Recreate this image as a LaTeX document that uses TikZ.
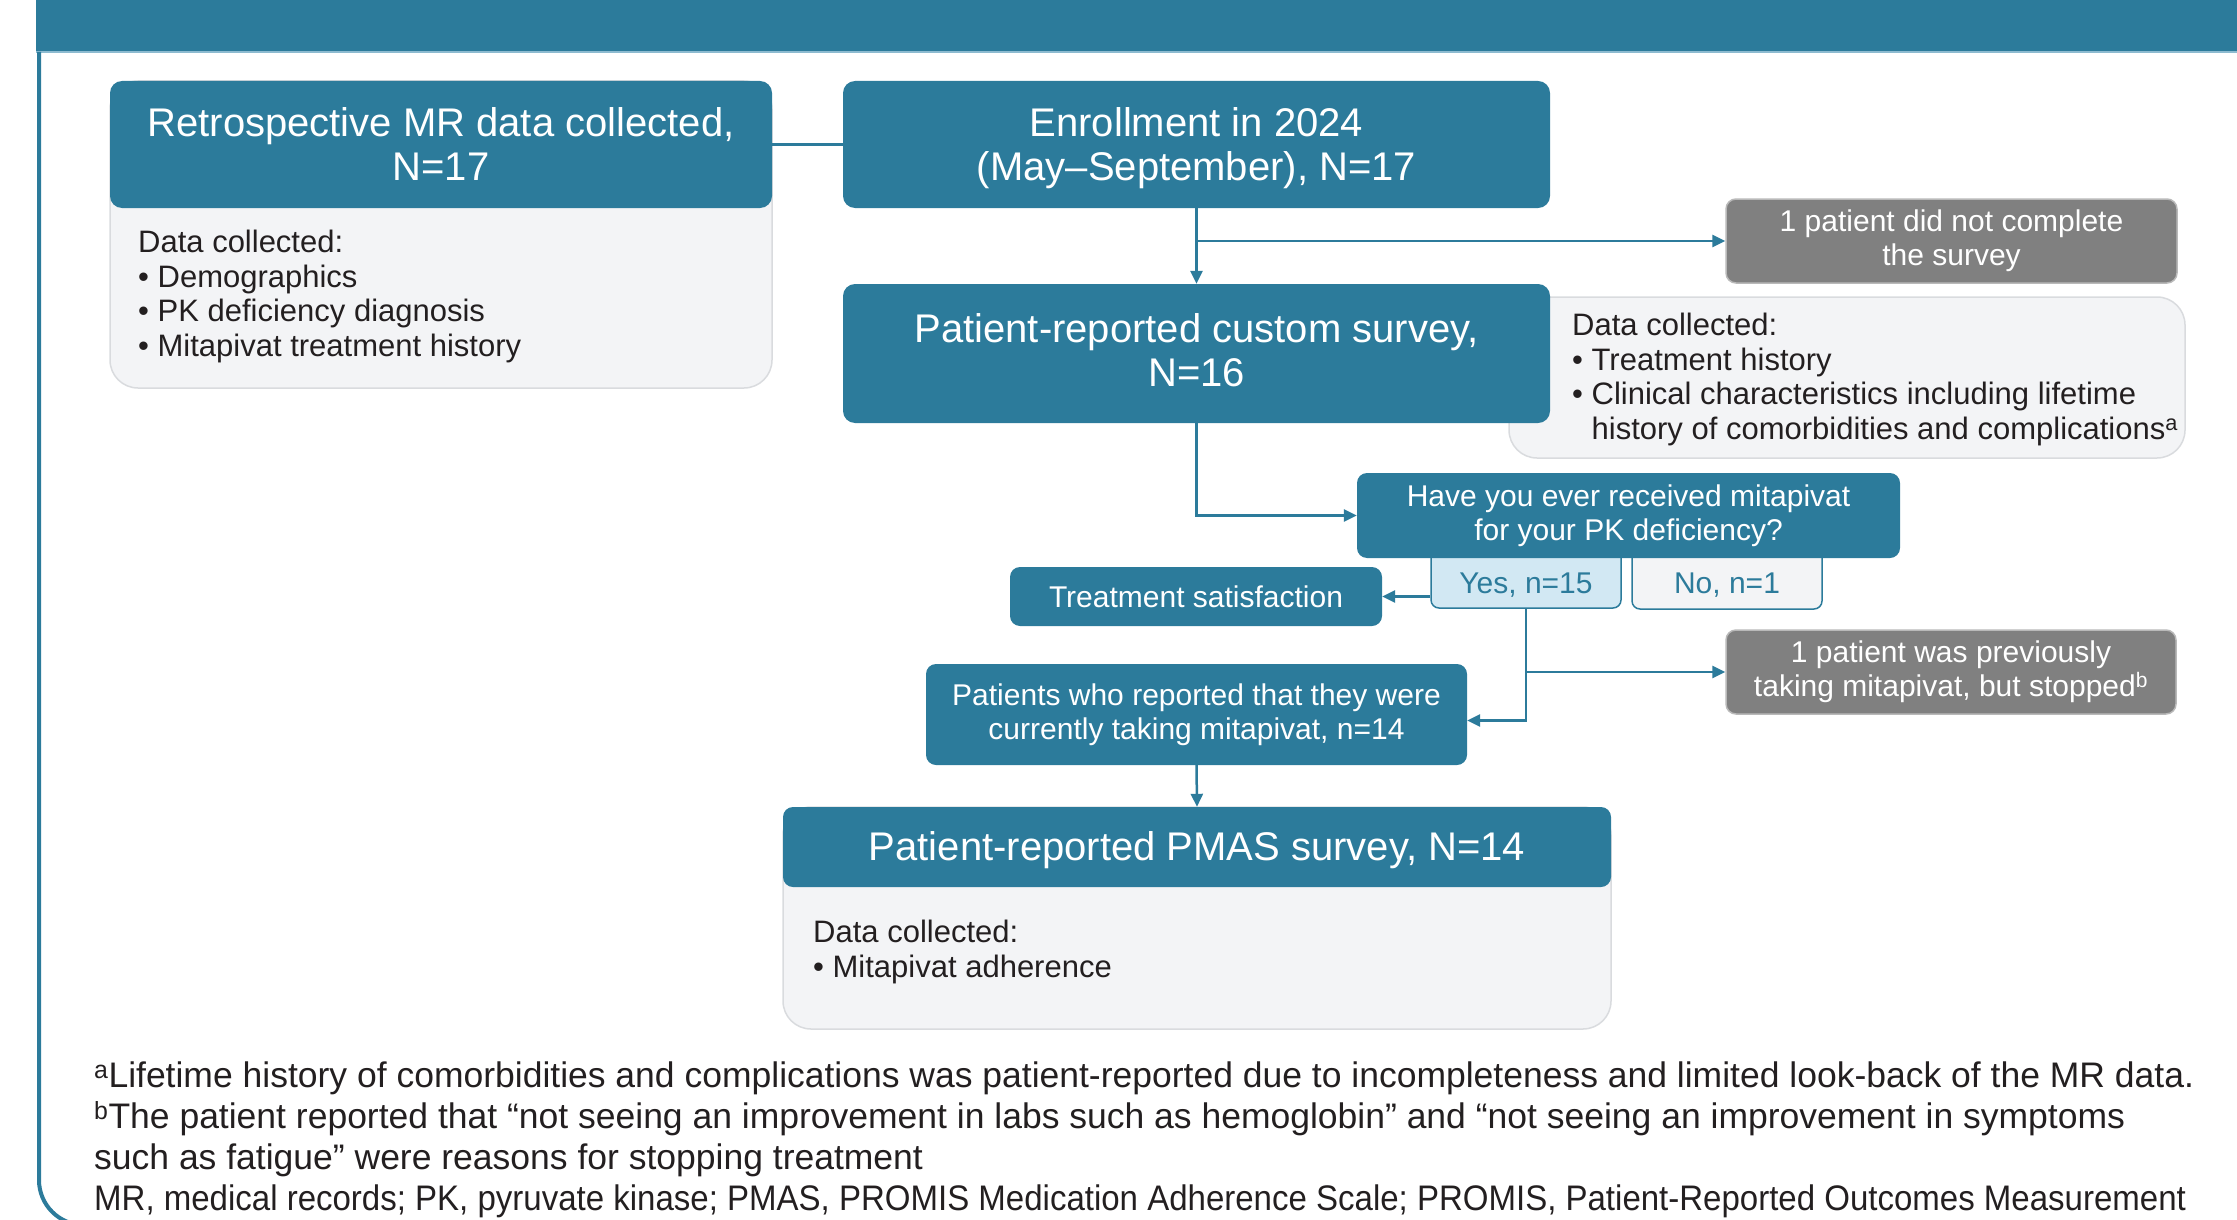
\documentclass[tikz,border=0pt]{standalone}
\usepackage{fontspec}
\setmainfont{Liberation Sans}
\usepackage{xcolor}
\usepackage{graphicx}
\usetikzlibrary{positioning, calc, arrows.meta}

\definecolor{pkteal}{HTML}{2C7B9B}
\definecolor{pkgrey}{HTML}{808080}
\definecolor{pkpale}{HTML}{F3F4F6}
\definecolor{pkedge}{HTML}{D9DBDE}
\definecolor{pkyes}{HTML}{D2E8F3}
\definecolor{pkink}{HTML}{231F20}
\definecolor{pkline}{HTML}{8DBBD0}

\begin{document}
\begin{tikzpicture}[x=1pt, y=-1pt,
    bigbox/.style={rectangle, rounded corners=12pt, fill=pkteal, text=white, align=center, inner sep=0pt, font=\fontsize{40}{44}\selectfont},
    smallbox/.style={rectangle, rounded corners=10pt, fill=pkteal, text=white, align=center, inner sep=0pt, font=\fontsize{30}{34}\selectfont},
    greybox/.style={smallbox, fill=pkgrey, draw=pkgrey!55!white, line width=1.5pt},
    databox/.style={rectangle, rounded corners=28pt, fill=pkpale, draw=pkedge, line width=1.5pt},
    choice/.style={rectangle, rounded corners=8pt, draw=pkteal, line width=1.5pt, text=pkteal, inner sep=0pt, font=\fontsize{30}{34}\selectfont, text height=44pt, text depth=6pt},
    datatext/.style={anchor=north west, align=left, inner sep=0pt, text=pkink, font=\fontsize{31}{34.5}\selectfont},
    link/.style={pkteal, line width=2.5pt},
    arr/.style={link, -{Triangle[length=13pt, width=12pt]}},
]
    \useasboundingbox (0,0) rectangle (2237,1220);

    % Banner and left frame
    \fill[pkteal] (36,0) rectangle (2237,52);
    \draw[pkline, line width=2pt] (36,52) -- (2237,52);
    \draw[pkteal, line width=4pt] (39,52) -- (39,1180) arc[start angle=180, end angle=90, radius=45];

    % Retrospective MR data branch
    \node[databox, minimum width=662pt, minimum height=307pt] (retdata) at (441,234.5) {};
    \node[bigbox, minimum width=662pt, minimum height=127pt] (ret) at (441,144.5) {Retrospective MR data collected,\\N=17};
    \node[datatext] (rettext) at (138,230) {Data collected:\\\textbullet\ Demographics\\\textbullet\ PK deficiency diagnosis\\\textbullet\ Mitapivat treatment history};

    % Enrollment
    \node[bigbox, minimum width=707pt, minimum height=127pt] (enr) at (1196.5,144.5) {\rule{0pt}{37pt}Enrollment in 2024\\(May--September), N=17};
    \node[greybox, minimum width=451pt, minimum height=84pt] (skip) at (1951.5,241) {1 patient did not complete\\the survey};

    % Custom survey with its data box
    \node[databox, minimum width=676pt, minimum height=161pt] (surdata) at (1847,377.5) {};
    \node[bigbox, minimum width=707pt, minimum height=139pt] (sur) at (1196.5,353.5) {Patient-reported custom survey,\\N=16\rule[-6pt]{0pt}{6pt}};
    \node[datatext] (surtext) at (1572,313) {Data collected:\\\textbullet\ Treatment history\\\textbullet\ Clinical characteristics including lifetime\\\phantom{\textbullet\ }history of comorbidities and complications\textsuperscript{a}};

    % Question and answers
    \node[choice, fill=pkyes, minimum width=190pt, minimum height=68pt] (yes) at (1526,574) {Yes, n=15};
    \node[choice, fill=pkpale, minimum width=190pt, minimum height=69pt] (no) at (1727,574.5) {No, n=1};
    \node[smallbox, minimum width=543pt, minimum height=85pt] (ask) at (1628.5,515.5) {Have you ever received mitapivat\\for your PK deficiency?};
    \node[smallbox, minimum width=372pt, minimum height=59pt] (sat) at (1196,596.5) {Treatment satisfaction};
    \node[greybox, minimum width=450pt, minimum height=84pt] (stop) at (1951,672) {1 patient was previously\\taking mitapivat, but stopped\textsuperscript{b}};
    \node[smallbox, minimum width=541pt, minimum height=101pt] (cur) at (1196.5,714.5) {Patients who reported that they were\\currently taking mitapivat, n=14};

    % PMAS survey
    \node[databox, minimum width=828pt, minimum height=222pt] (pmasdata) at (1197,918) {};
    \node[bigbox, rounded corners=10pt, minimum width=828pt, minimum height=80pt] (pmas) at (1197,847) {\rule{0pt}{35pt}Patient-reported PMAS survey, N=14};
    \node[datatext] (pmastext) at (813,920) {Data collected:\\\textbullet\ Mitapivat adherence};

    % Connectors
    \draw[link] (ret.east) -- (enr.west);
    \draw[arr] (enr.south) -- (sur.north);
    \draw[arr] (enr.south |- skip.west) -- (skip.west);
    \draw[arr] (sur.south) |- (ask.west);
    \draw[arr] (yes.west |- sat.east) -- (sat.east);
    \draw[arr] (yes.south) |- ([yshift=-6pt]cur.east);
    \draw[arr] (yes.south |- stop.west) -- (stop.west);
    \draw[arr] (cur.south) -- (pmas.north);

    % Footnotes
    \node[anchor=north west, align=left, inner sep=0pt, text=pkink, font=\fontsize{35.5}{41}\selectfont] (notes) at (94,1061.5)
        {\textsuperscript{a}Lifetime history of comorbidities and complications was patient-reported due to incompleteness and limited look-back of the MR data.\\
         \textsuperscript{b}The patient reported that “not seeing an improvement in labs such as hemoglobin” and “not seeing an improvement in symptoms\\
         such as fatigue” were reasons for stopping treatment\\
         \scalebox{0.93}[1]{MR, medical records; PK, pyruvate kinase; PMAS, PROMIS Medication Adherence Scale; PROMIS, Patient-Reported Outcomes Measurement}};
\end{tikzpicture}
\end{document}
